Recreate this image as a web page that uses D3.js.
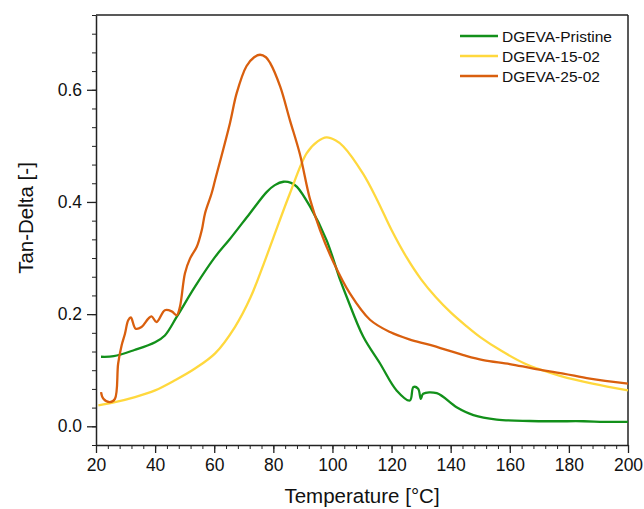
<!DOCTYPE html>
<html>
<head>
<meta charset="utf-8">
<title>Tan-Delta vs Temperature</title>
<script src="https://d3js.org/d3.v7.min.js"></script>
<style>
  body { margin: 0; background: #fff; }
  text { font-family: "Liberation Sans", Arial, sans-serif; fill: #111; }
</style>
</head>
<body>
<div id="chart"></div>
<script>
// data
var pristineT = [21.7, 26, 33, 40, 43.3, 47.3, 53.5, 60.3, 65.3, 72.1, 77.8, 80.5, 83.4, 86, 88, 92.4, 98, 102.6, 104.8, 110.4, 116.1, 121.7, 126.2, 127.4, 129, 129.9, 130.7, 135.3, 142, 147.7, 155.6, 166.8, 175, 185, 192, 200];
var pristineV = [0.124, 0.125, 0.136, 0.150, 0.162, 0.195, 0.249, 0.302, 0.334, 0.380, 0.418, 0.430, 0.436, 0.434, 0.427, 0.392, 0.332, 0.261, 0.231, 0.160, 0.112, 0.064, 0.046, 0.070, 0.067, 0.049, 0.058, 0.059, 0.034, 0.020, 0.012, 0.0095, 0.009, 0.009, 0.008, 0.008];

var t1502T = [20.8, 26.4, 33.2, 40, 46.7, 53.5, 60.3, 67, 72.3, 77.2, 80, 85.6, 91.3, 95, 98, 101, 103.7, 110.4, 115, 120, 125, 130, 135, 140, 145, 150, 157, 165, 171, 177, 188, 200];
var t1502V = [0.0375, 0.043, 0.052, 0.064, 0.082, 0.103, 0.130, 0.177, 0.230, 0.296, 0.336, 0.415, 0.487, 0.508, 0.515, 0.510, 0.499, 0.450, 0.405, 0.350, 0.302, 0.262, 0.230, 0.203, 0.180, 0.159, 0.135, 0.112, 0.100, 0.090, 0.076, 0.064];

var t2502T = [21.7, 22.5, 24.7, 26.4, 27.5, 28.7, 29.8, 30.9, 31.8, 33.4, 35.4, 37.7, 38.8, 40.5, 43.3, 45.6, 47.3, 48.4, 50.1, 51.8, 54.1, 55.8, 56.9, 59.1, 60.3, 65.3, 67.6, 70.9, 73.5, 75.5, 77.5, 78.9, 82.3, 85.6, 89, 92.4, 95.8, 100.3, 105.9, 112.7, 119.5, 126, 133, 144.3, 151, 160, 168, 178.1, 187.1, 200];
var t2502V = [0.061, 0.049, 0.043, 0.049, 0.112, 0.145, 0.165, 0.189, 0.194, 0.174, 0.177, 0.192, 0.196, 0.186, 0.207, 0.205, 0.198, 0.213, 0.273, 0.299, 0.320, 0.350, 0.380, 0.415, 0.439, 0.540, 0.594, 0.642, 0.658, 0.6625, 0.658, 0.648, 0.606, 0.546, 0.485, 0.405, 0.350, 0.293, 0.237, 0.190, 0.168, 0.155, 0.145, 0.127, 0.118, 0.111, 0.103, 0.094, 0.085, 0.076];

var seriesNames = ["DGEVA-Pristine", "DGEVA-15-02", "DGEVA-25-02"];
var seriesColors = ["#12901a", "#ffd83d", "#d95f0e"];

var xTicks = [20, 40, 60, 80, 100, 120, 140, 160, 180, 200];
var yTicks = [0.0, 0.2, 0.4, 0.6];

var series = [
  { name: seriesNames[0], color: seriesColors[0], pts: pristineT.map(function (t, i) { return [t, pristineV[i]]; }) },
  { name: seriesNames[1], color: seriesColors[1], pts: t1502T.map(function (t, i) { return [t, t1502V[i]]; }) },
  { name: seriesNames[2], color: seriesColors[2], pts: t2502T.map(function (t, i) { return [t, t2502V[i]]; }) }
];

var W = 644, H = 509;
var margin = { top: 15, right: 16, bottom: 64, left: 96 };
var width = W - margin.left - margin.right,
    height = H - margin.top - margin.bottom;

var svg = d3.select("#chart").append("svg")
  .attr("width", W).attr("height", H);

var g = svg.append("g")
  .attr("transform", "translate(" + margin.left + "," + margin.top + ")");

var x = d3.scaleLinear().domain([20, 200]).range([0, width]);
var y = d3.scaleLinear().domain([-1 / 30, 0.7 + 1 / 30]).range([height, 0]);

// minor ticks
var xMinor = d3.range(20, 201, 4);
var yMinor = d3.range(-1, 23).map(function (k) { return k / 30; });

g.append("g")
  .attr("transform", "translate(0," + height + ")")
  .call(d3.axisBottom(x).tickValues(xMinor).tickSize(4).tickFormat(""))
  .call(function (s) { s.select(".domain").remove(); s.selectAll("line").attr("stroke", "#222"); });

g.append("g")
  .call(d3.axisLeft(y).tickValues(yMinor).tickSize(4).tickFormat(""))
  .call(function (s) { s.select(".domain").remove(); s.selectAll("line").attr("stroke", "#222"); });

// major axes
var xAxis = g.append("g")
  .attr("transform", "translate(0," + height + ")")
  .call(d3.axisBottom(x).tickValues(xTicks).tickSize(8).tickSizeOuter(0).tickPadding(6));
xAxis.selectAll("text").style("font-size", "17.5px");

var yAxis = g.append("g")
  .call(d3.axisLeft(y).tickValues(yTicks).tickSize(9).tickSizeOuter(0).tickPadding(5).tickFormat(d3.format(".1f")));
yAxis.selectAll("text").style("font-size", "17.5px");

[xAxis, yAxis].forEach(function (a) {
  a.select(".domain").attr("stroke", "#222").attr("stroke-width", 1.5);
  a.selectAll(".tick line").attr("stroke", "#222").attr("stroke-width", 1.3);
});

// top and right frame
g.append("line").attr("x1", 0).attr("x2", width).attr("y1", 0).attr("y2", 0)
  .attr("stroke", "#222").attr("stroke-width", 1.5);
g.append("line").attr("x1", width).attr("x2", width).attr("y1", 0).attr("y2", height)
  .attr("stroke", "#222").attr("stroke-width", 1.5);

// lines
var line = d3.line()
  .x(function (d) { return x(d[0]); })
  .y(function (d) { return y(d[1]); })
  .curve(d3.curveCatmullRom.alpha(0.5));

g.selectAll(".series")
  .data(series)
  .enter()
  .append("path")
  .attr("class", "series")
  .attr("fill", "none")
  .attr("stroke", function (d) { return d.color; })
  .attr("stroke-width", 2.3)
  .attr("stroke-linejoin", "round")
  .attr("d", function (d) { return line(d.pts); });

// legend
var legend = svg.append("g").attr("transform", "translate(460,36)");
series.forEach(function (s, i) {
  legend.append("line")
    .attr("x1", 0).attr("x2", 38)
    .attr("y1", i * 20).attr("y2", i * 20)
    .attr("stroke", s.color).attr("stroke-width", 2.3);
  legend.append("text")
    .attr("x", 42).attr("y", i * 20 + 5.5)
    .style("font-size", "15.5px")
    .text(s.name);
});

// axis titles
svg.append("text")
  .attr("x", margin.left + width / 2)
  .attr("y", 503)
  .attr("text-anchor", "middle")
  .style("font-size", "20.5px")
  .text("Temperature [°C]");

svg.append("text")
  .attr("transform", "rotate(-90)")
  .attr("x", -(margin.top + 203))
  .attr("y", 33)
  .attr("text-anchor", "middle")
  .style("font-size", "20.5px")
  .text("Tan-Delta [-]");
</script>
</body>
</html>
